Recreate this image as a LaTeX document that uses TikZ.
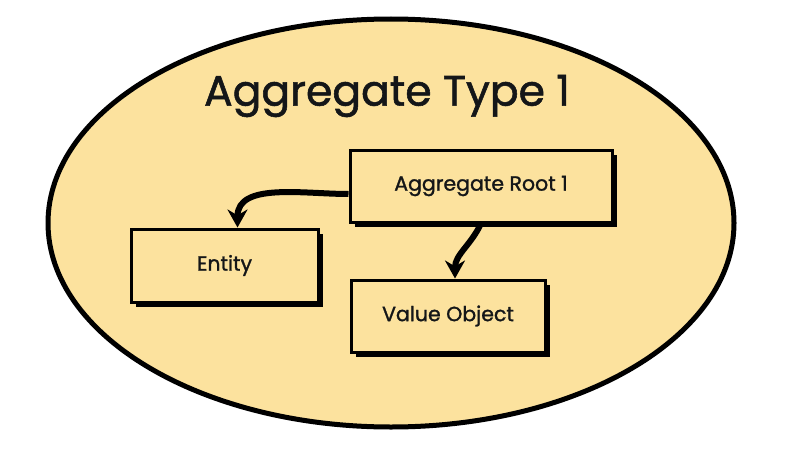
\documentclass[tikz,border=0pt]{standalone}
\usepackage{fontspec}
\newfontfamily\aggfont{Poppins}[FakeBold=1.3]
\usetikzlibrary{shapes.geometric,arrows.meta,shadows}
\definecolor{aggfill}{RGB}{252,226,158}
\definecolor{ink}{RGB}{20,22,24}
\tikzset{
  part/.style={draw, line width=3pt, fill=aggfill, inner sep=0pt, text=ink,
    font=\aggfont\fontsize{20.5}{24}\selectfont,
    drop shadow={shadow xshift=5pt, shadow yshift=-5pt, fill=black, opacity=1}},
  link/.style={-{Stealth[length=18pt,width=20pt]}, line width=6pt},
}
\begin{document}
\begin{tikzpicture}[x=1pt,y=-1pt]
    \useasboundingbox (0,0) rectangle (800,452);
    \node[ellipse, draw, line width=5pt, fill=aggfill, minimum width=686pt, minimum height=408pt] (type) at (391,223) {};
    \node[font=\aggfont\fontsize{42.5}{48}\selectfont, text=ink] (title) at (387,96) {Aggregate Type 1};
    \node[part, minimum width=262pt, minimum height=72pt] (root)   at (481,186)   {Aggregate Root 1};
    \node[part, minimum width=187pt, minimum height=73pt] (entity) at (224.5,265.5) {Entity};
    \node[part, minimum width=194pt, minimum height=72pt] (value)  at (448,316)   {Value Object};
    \draw[link] ([yshift=-8pt]root.west) to[out=180,in=90] ([xshift=13pt]entity.north);
    \draw[link] (root.south) to[out=-115,in=90] ([xshift=7pt]value.north);
  \end{tikzpicture}
\end{document}
